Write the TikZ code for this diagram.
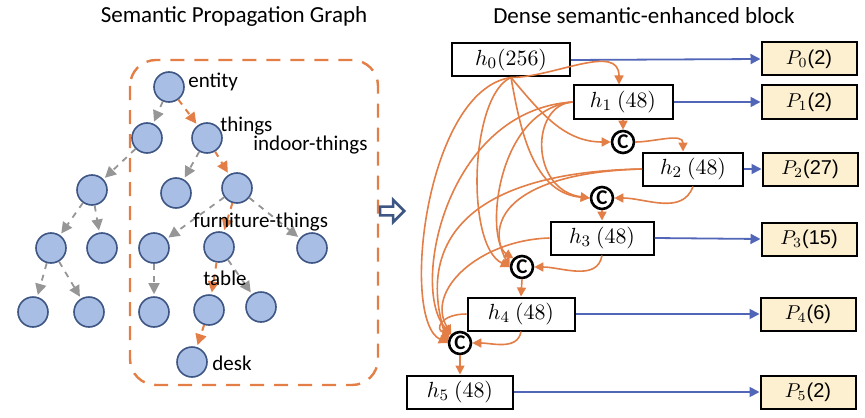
\documentclass[tikz,border=0pt]{standalone}
\usepackage{fontspec}
\setmainfont{Carlito}
\newfontfamily\arialfont{Liberation Sans}
\usepackage{tikz}
\usetikzlibrary{
    positioning,
    arrows.meta,
    shapes.arrows
}
\definecolor{nodoazul}{RGB}{168,190,228}
\definecolor{bordeazul}{RGB}{62,86,132}
\definecolor{naranja}{RGB}{226,126,70}
\definecolor{gris}{RGB}{150,150,150}
\definecolor{azulflecha}{RGB}{82,102,184}
\definecolor{crema}{RGB}{253,240,208}
\tikzset{
    >=Stealth,
    concepto/.style={
        circle, draw=bordeazul, fill=nodoazul,
        line width=0.8pt, minimum size=15pt, inner sep=0pt
    },
    etiqueta/.style={
        anchor=west, inner sep=0pt,
        font=\fontsize{10.5}{12}\selectfont
    },
    rama/.style={
        -{Triangle[length=5.5pt,width=5.5pt]}, dashed, gris,
        line width=0.9pt, shorten >=1pt
    },
    ruta/.style={
        -{Triangle[length=5.5pt,width=5.5pt]}, dashed, naranja,
        line width=1pt, shorten >=1pt
    },
    capa/.style={
        draw, line width=1pt, minimum height=16.5pt, inner sep=1pt,
        font=\fontsize{11}{13}\selectfont
    },
    salida/.style={
        draw, fill=crema, line width=1pt, minimum width=47.5pt,
        minimum height=16.5pt, inner sep=1pt,
        font=\arialfont\fontsize{10}{12}\selectfont
    },
    concat/.style={
        circle, draw, line width=1.3pt, fill=white, inner sep=0pt,
        minimum size=11pt, font=\bfseries\fontsize{10.5}{10.5}\selectfont
    },
    denso/.style={
        -{Triangle[length=4.5pt,width=4.5pt]}, naranja, line width=0.8pt
    },
    proy/.style={
        -{Triangle[length=5pt,width=5pt]}, azulflecha, line width=0.9pt
    }
}

\begin{document}
\begin{tikzpicture}[
    x=0.5pt, y=-0.5pt,
    >=Stealth
]
    \useasboundingbox (0,0) rectangle (865,417);

    % Titulos
    \node[font=\fontsize{11.5}{13}\selectfont] (tituloA) at (234,16) {Semantic Propagation Graph};
    \node[font=\fontsize{11.5}{13}\selectfont] (tituloB) at (644,16) {Dense semantic-enhanced block};

    % Marco
    \draw[naranja, line width=1.2pt, dash pattern=on 7pt off 5pt, rounded corners=13pt]
        (130,60) rectangle (378,385);

    % Arbol
    \node[concepto] (entity)    at (169,87)  {};
    \node[concepto] (n1)        at (147,138) {};
    \node[concepto] (things)    at (207,138) {};
    \node[concepto] (n2)        at (92,190)  {};
    \node[concepto] (n3)        at (176,193) {};
    \node[concepto] (indoor)    at (237,188) {};
    \node[concepto] (n4)        at (51,248)  {};
    \node[concepto] (n5)        at (102,248) {};
    \node[concepto] (n6)        at (154,248) {};
    \node[concepto] (furniture) at (219,247) {};
    \node[concepto] (n7)        at (312,248) {};
    \node[concepto] (n8)        at (33,312)  {};
    \node[concepto] (n9)        at (89,312)  {};
    \node[concepto] (n10)       at (154,312) {};
    \node[concepto] (table)     at (209,310) {};
    \node[concepto] (n11)       at (261,307) {};
    \node[concepto] (desk)      at (192,362) {};

    \draw[rama] (entity) -- (n1);
    \draw[rama] (n1) -- (n2);
    \draw[rama] (things) -- (n3);
    \draw[rama] (n2) -- (n4);
    \draw[rama] (n2) -- (n5);
    \draw[rama] (indoor) -- (n6);
    \draw[rama] (indoor) -- (n7);
    \draw[rama] (n4) -- (n8);
    \draw[rama] (n4) -- (n9);
    \draw[rama] (n6) -- (n10);
    \draw[rama] (furniture) -- (n11);

    \draw[ruta] (entity) -- (things);
    \draw[ruta] (things) -- (indoor);
    \draw[ruta] (indoor) -- (furniture);
    \draw[ruta] (furniture) -- (table);
    \draw[ruta] (table) -- (desk);

    \node[etiqueta] (lentity)    at (188,82)  {entity};
    \node[etiqueta] (lthings)    at (220,126) {things};
    \node[etiqueta] (lindoor)    at (253,145) {indoor-things};
    \node[etiqueta] (lfurniture) at (193,222) {furniture-things};
    \node[etiqueta] (ltable)     at (203,278) {table};
    \node[etiqueta] (ldesk)      at (212,363) {desk};

    \node[single arrow, draw=bordeazul, fill=white, line width=1.3pt,
        minimum height=12pt, minimum width=11pt, inner sep=1pt,
        single arrow head extend=2.5pt] (flecha) at (390,211) {};

    % Capas
    \node[capa, minimum width=59pt]   (h0) at (511,60)  {$h_0(256)$};
    \node[capa, minimum width=49.5pt] (h1) at (623,102) {$h_1\ (48)$};
    \node[capa, minimum width=50pt]   (h2) at (693,169) {$h_2\ (48)$};
    \node[capa, minimum width=51.5pt] (h3) at (602,238) {$h_3\ (48)$};
    \node[capa, minimum width=53.5pt] (h4) at (521,314) {$h_4\ (48)$};
    \node[capa, minimum width=53pt]   (h5) at (460,392) {$h_5\ (48)$};

    \node[concat] (c1) at (623,142) {C};
    \node[concat] (c2) at (602,198) {C};
    \node[concat] (c3) at (522,267) {C};
    \node[concat] (c4) at (460,343) {C};

    % Salidas
    \node[salida] (p0) at (809,59)  {$P_0$(2)};
    \node[salida] (p1) at (809,102) {$P_1$(2)};
    \node[salida] (p2) at (810,169) {$P_2$(27)};
    \node[salida] (p3) at (809,239) {$P_3$(15)};
    \node[salida] (p4) at (808,314) {$P_4$(6)};
    \node[salida] (p5) at (808,392) {$P_5$(2)};

    \foreach \i in {0,...,5}
        \draw[proy] (h\i.east) -- (p\i.west);

    % Conexiones densas
    \draw[denso] (h0.south) to[out=0,in=90] ([xshift=-2pt]h1.north);
    \draw[denso] (h0.south) to[out=-50,in=180] (c1.west);
    \draw[denso] (h0.south) to[out=-80,in=175] (c2.west);
    \draw[denso] (h0.south) .. controls (470,95) and (465,245) .. (c3.west);
    \draw[denso] (h0.south) .. controls (425,90) and (400,320) .. (c4.west);

    \draw[denso] (h1.south) -- (c1.north);
    \draw[denso] (h1.west) .. controls (530,105) and (530,190) .. (c2.west);
    \draw[denso] (h1.west) .. controls (495,110) and (485,240) .. (c3.north west);
    \draw[denso] (h1.west) .. controls (445,110) and (410,290) .. (c4.north west);

    \draw[denso] (c1.east) to[out=0,in=90] ([xshift=-5pt]h2.north);
    \draw[denso] (h2.south) to[out=-110,in=0] (c2.east);
    \draw[denso] (h2.west) .. controls (530,172) and (480,210) .. (c3.west);
    \draw[denso] (h2.west) .. controls (470,172) and (415,240) .. (c4.west);

    \draw[denso] (c2.south) -- (h3.north);
    \draw[denso] (h3.south) to[out=-100,in=0] (c3.east);
    \draw[denso] (h3.west) .. controls (480,240) and (425,290) .. (c4.north west);

    \draw[denso] (c3.south) -- (h4.north);
    \draw[denso] (h4.west) .. controls (440,314) and (435,330) .. (c4.north west);
    \draw[denso] (h4.south) to[out=-100,in=0] (c4.east);

    \draw[denso] (c4.south) -- (h5.north);

\end{tikzpicture}
\end{document}
